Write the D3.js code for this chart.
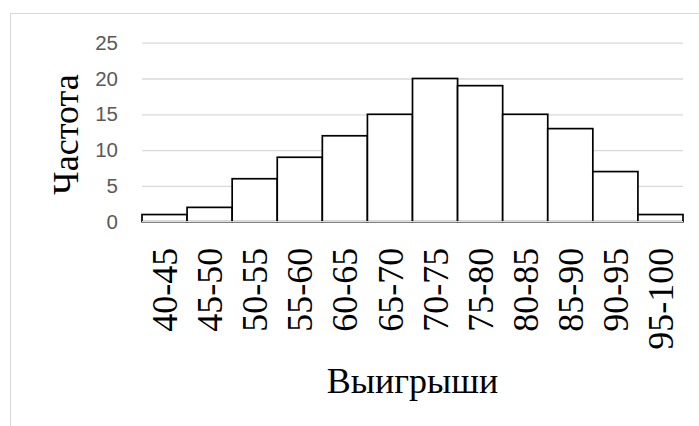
<!DOCTYPE html>
<html>
<head>
<meta charset="utf-8">
<script src="https://cdn.jsdelivr.net/npm/d3@7"></script>
<style>
  html, body { margin: 0; padding: 0; background: #fff; }
  svg { display: block; }
</style>
</head>
<body>
<script>
const categories = ["40-45","45-50","50-55","55-60","60-65","65-70","70-75","75-80","80-85","85-90","90-95","95-100"];
const frequencies = [1, 2, 6, 9, 12, 15, 20, 19, 15, 13, 7, 1];
const yTicks = [0, 5, 10, 15, 20, 25];
const yTitle = "Частота";
const xTitle = "Выигрыши";

const W = 699, H = 426;
const plot = { left: 142, right: 683, top: 42.7, bottom: 221.7 };
const serif = "'Liberation Serif', 'Times New Roman', serif";

const svg = d3.select("body").append("svg").attr("width", W).attr("height", H);

// chart frame (clipped by window on right/bottom)
svg.append("rect")
  .attr("x", 10.5).attr("y", 13.5).attr("width", 720).attr("height", 440)
  .attr("fill", "#fff").attr("stroke", "#d9d9d9").attr("stroke-width", 1);

const x = d3.scaleBand().domain(categories).range([plot.left, plot.right]).padding(0);
const y = d3.scaleLinear().domain([0, 25]).range([plot.bottom, plot.top]);

// gridlines + y tick labels
const yAxis = d3.axisLeft(y).tickValues(yTicks).tickSize(-(plot.right - plot.left)).tickPadding(24);
const gy = svg.append("g").attr("transform", `translate(${plot.left},0)`).call(yAxis);
gy.select(".domain").remove();
gy.selectAll(".tick line").attr("stroke", "#d9d9d9").attr("stroke-width", 1.3);
gy.selectAll(".tick text")
  .attr("fill", "#595959")
  .attr("font-family", "'Liberation Sans', Arial, sans-serif")
  .attr("font-size", 20.5);

// bars
svg.append("g").selectAll("rect").data(frequencies).join("rect")
  .attr("x", (d, i) => x(categories[i]))
  .attr("y", d => y(d))
  .attr("width", x.bandwidth())
  .attr("height", d => y(0) - y(d))
  .attr("fill", "#fff")
  .attr("stroke", "#000")
  .attr("stroke-width", 1.7);

// x axis line
svg.append("line")
  .attr("x1", plot.left).attr("x2", plot.right)
  .attr("y1", y(0)).attr("y2", y(0))
  .attr("stroke", "#d9d9d9").attr("stroke-width", 1.3);

// x tick labels
const xAxis = d3.axisBottom(x).tickSize(0).tickPadding(0);
const gx = svg.append("g").attr("transform", `translate(0,${plot.bottom})`).call(xAxis);
gx.select(".domain").remove();
gx.selectAll(".tick text")
  .attr("transform", "rotate(-90)")
  .attr("text-anchor", "end")
  .attr("x", -26)
  .attr("y", 0)
  .attr("dy", "0.35em")
  .attr("fill", "#000")
  .attr("font-family", serif)
  .attr("font-size", 36);

// y title
svg.append("text")
  .attr("transform", "translate(78,134.5) rotate(-90)")
  .attr("text-anchor", "middle")
  .attr("font-family", serif)
  .attr("font-size", 36)
  .attr("fill", "#000")
  .text(yTitle);

// x title
svg.append("text")
  .attr("x", (plot.left + plot.right) / 2).attr("y", 393)
  .attr("text-anchor", "middle")
  .attr("font-family", serif)
  .attr("font-size", 36)
  .attr("fill", "#000")
  .text(xTitle);
</script>
</body>
</html>
